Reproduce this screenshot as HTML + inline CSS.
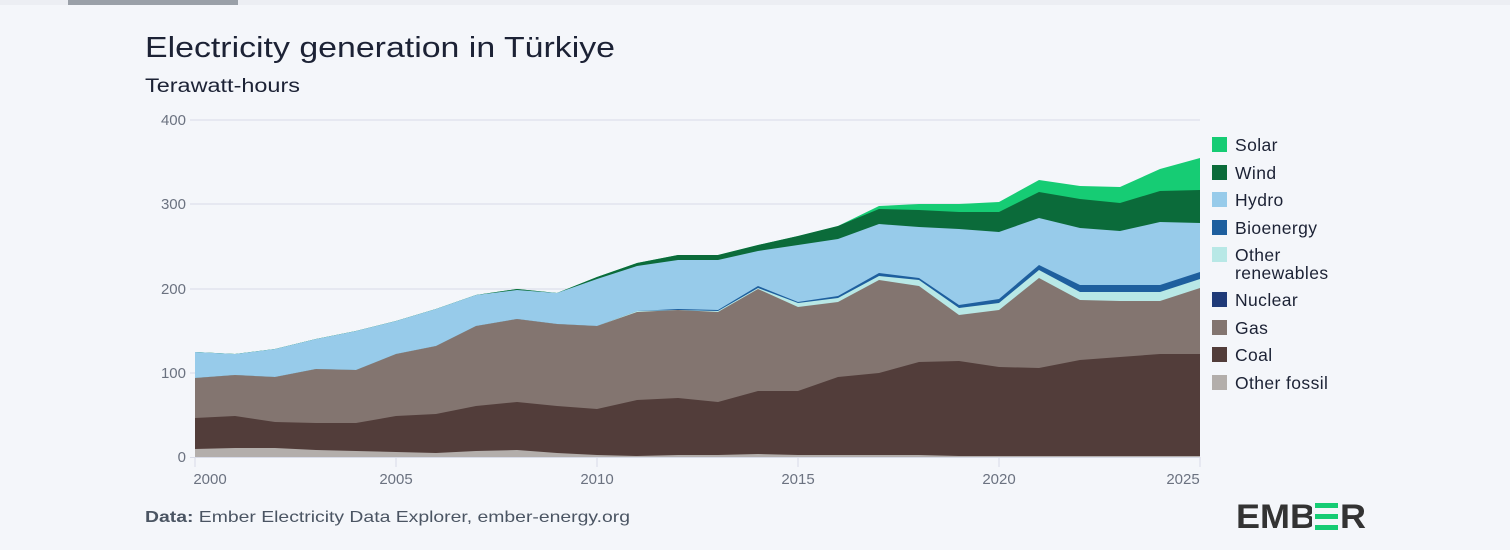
<!DOCTYPE html>
<html><head><meta charset="utf-8"><style>
html,body{margin:0;padding:0;background:#f4f6fa;}
body{width:1510px;height:550px;overflow:hidden;position:relative;font-family:"Liberation Sans",sans-serif;}
</style></head><body>
<svg width="1510" height="550" xmlns="http://www.w3.org/2000/svg" style="position:absolute;left:0;top:0">
<rect x="0" y="0" width="1510" height="550" fill="#f4f6fa"/>
<rect x="0" y="0" width="1510" height="5" fill="#eceef3"/>
<rect x="68" y="0" width="170" height="5" fill="#9aa0a8"/>
<text x="145" y="57" font-size="29" fill="#1c2235" textLength="470" lengthAdjust="spacingAndGlyphs">Electricity generation in Türkiye</text>
<text x="145" y="92" font-size="19" fill="#1c2235" textLength="155" lengthAdjust="spacingAndGlyphs">Terawatt-hours</text>
<g stroke="#d8dbe8" stroke-width="1">
<line x1="190" y1="120" x2="1200" y2="120"/><line x1="190" y1="204" x2="1200" y2="204"/>
<line x1="190" y1="289" x2="1200" y2="289"/><line x1="190" y1="373" x2="1200" y2="373"/>
</g>
<g font-size="15" fill="#6b7280" text-anchor="end">
<text x="186" y="125">400</text><text x="186" y="209">300</text><text x="186" y="294">200</text><text x="186" y="378">100</text><text x="186" y="462">0</text>
</g>
<polygon fill="#16cc74" points="195,352 235,354 275,349 316,339 356,331 396,321 436,309 476,295 517,289 557,293 597,277 637,263 678,255 718,255 758,245 798,236 838,226 879,206 919,204 959,204 999,202 1039,180 1080,186 1120,187 1160,169 1200,158 1200,457 195,457"/>
<polygon fill="#0b6b3a" points="195,352 235,354 275,349 316,339 356,331 396,321 436,309 476,295 517,289 557,293 597,277 637,263 678,255 718,255 758,245 798,236 838,226 879,209 919,210 959,212 999,212 1039,192 1080,199 1120,203 1160,191 1200,190 1200,457 195,457"/>
<polygon fill="#97cbea" points="195,352 235,354 275,349 316,339 356,331 396,321 436,309 476,295 517,290 557,293 597,279 637,266 678,260 718,260 758,251 798,245 838,239 879,224 919,227 959,229 999,232 1039,218 1080,228 1120,231 1160,222 1200,223 1200,457 195,457"/>
<polygon fill="#1e5f9e" points="195,378 235,375 275,377 316,369 356,370 396,354 436,346 476,326 517,319 557,324 597,326 637,311 678,309 718,310 758,286 798,302 838,296 879,273 919,278 959,305 999,299 1039,265 1080,285 1120,285 1160,285 1200,272 1200,457 195,457"/>
<polygon fill="#b8e8e6" points="195,378 235,375 275,377 316,369 356,370 396,354 436,346 476,326 517,319 557,324 597,326 637,311 678,310 718,311 758,288 798,303 838,298 879,276 919,280 959,308 999,303 1039,270 1080,292 1120,292 1160,292 1200,279 1200,457 195,457"/>
<polygon fill="#837570" points="195,378 235,375 275,377 316,369 356,370 396,354 436,346 476,326 517,319 557,324 597,326 637,312 678,310 718,312 758,289 798,307 838,302 879,280 919,286 959,315 999,310 1039,278 1080,300 1120,301 1160,301 1200,288 1200,457 195,457"/>
<polygon fill="#523d3a" points="195,418 235,416 275,422 316,423 356,423 396,416 436,414 476,406 517,402 557,406 597,409 637,400 678,398 718,402 758,391 798,391 838,377 879,373 919,362 959,361 999,367 1039,368 1080,360 1120,357 1160,354 1200,354 1200,457 195,457"/>
<polygon fill="#b3aeab" points="195,449 235,448 275,448 316,450 356,451 396,452 436,453 476,451 517,450 557,453 597,455 637,456 678,455 718,455 758,454 798,455 838,455 879,455 919,455 959,456 999,456 1039,456 1080,456 1120,456 1160,456 1200,456 1200,457 195,457"/>
<line x1="190" y1="457.5" x2="1200" y2="457.5" stroke="#d8dbe8"/>
<g stroke="#d8dbe8"><line x1="195" y1="457" x2="195" y2="467"/><line x1="396" y1="457" x2="396" y2="467"/><line x1="597" y1="457" x2="597" y2="467"/><line x1="798" y1="457" x2="798" y2="467"/><line x1="999" y1="457" x2="999" y2="467"/><line x1="1200" y1="457" x2="1200" y2="467"/></g>
<g font-size="15" fill="#6b7280" text-anchor="middle">
<text x="210" y="484">2000</text><text x="396" y="484">2005</text><text x="597" y="484">2010</text><text x="798" y="484">2015</text><text x="999" y="484">2020</text><text x="1183" y="484">2025</text>
</g>
<g font-size="17.5" fill="#1c2235" letter-spacing="0.4">
<rect x="1212" y="137" width="15" height="15" fill="#16cc74"/><text x="1235" y="151">Solar</text>
<rect x="1212" y="165" width="15" height="15" fill="#0b6b3a"/><text x="1235" y="179">Wind</text>
<rect x="1212" y="192" width="15" height="15" fill="#97cbea"/><text x="1235" y="206">Hydro</text>
<rect x="1212" y="220" width="15" height="15" fill="#1e5f9e"/><text x="1235" y="234">Bioenergy</text>
<rect x="1212" y="247" width="15" height="15" fill="#b8e8e6"/><text x="1235" y="261">Other</text><text x="1235" y="279">renewables</text>
<rect x="1212" y="292" width="15" height="15" fill="#1f3a78"/><text x="1235" y="306">Nuclear</text>
<rect x="1212" y="320" width="15" height="15" fill="#837570"/><text x="1235" y="334">Gas</text>
<rect x="1212" y="347" width="15" height="15" fill="#523d3a"/><text x="1235" y="361">Coal</text>
<rect x="1212" y="375" width="15" height="15" fill="#b3aeab"/><text x="1235" y="389">Other fossil</text>
</g>
<text x="145" y="522" font-size="16" fill="#4b5563" textLength="485" lengthAdjust="spacingAndGlyphs"><tspan font-weight="bold">Data:</tspan> Ember Electricity Data Explorer, ember-energy.org</text>
<text x="1236" y="528" font-size="34" font-weight="bold" fill="#333" textLength="130" lengthAdjust="spacingAndGlyphs">EMB<tspan fill="#f4f6fa">E</tspan>R</text>
<rect x="1312" y="503" width="28" height="27" fill="#f4f6fa"/>
<g fill="#16cc74"><rect x="1315" y="503" width="23" height="5"/><rect x="1315" y="514" width="23" height="5"/><rect x="1315" y="525" width="23" height="5"/></g>
</svg>
</body></html>
